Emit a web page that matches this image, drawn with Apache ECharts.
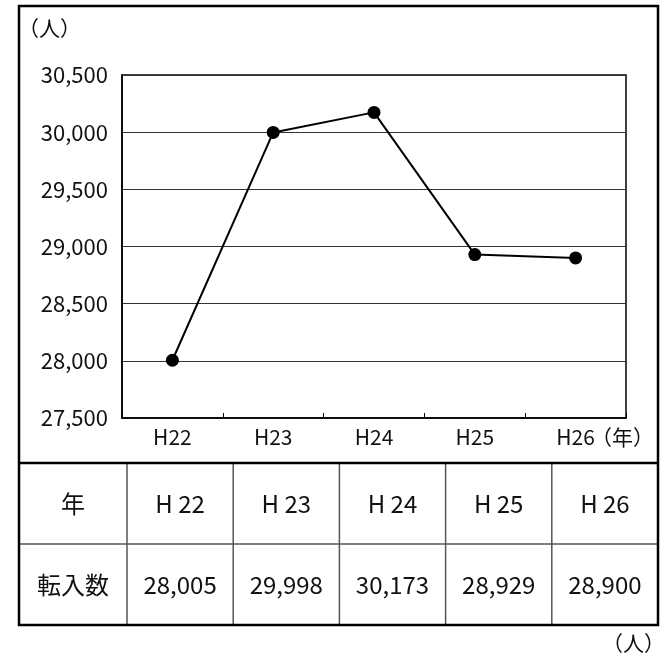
<!DOCTYPE html>
<html><head><meta charset="utf-8">
<script src="https://cdn.jsdelivr.net/npm/echarts@6/dist/echarts.min.js"></script>
<style>html,body{margin:0;padding:0;background:#fff}#c{width:660px;height:660px}</style>
</head><body><div id="c"></div>
<script>
const categories = ['H22','H23','H24','H25','H26'];
const tableYearLabels = ['H 22','H 23','H 24','H 25','H 26'];
const transfersIn = [28005, 29998, 30173, 28929, 28900];
const yTickLabels = ['27,500','28,000','28,500','29,000','29,500','30,000','30,500'];
const rowHeaders = ['年','転入数'];
const unitLabel = '（人）';
const yearUnit = '（年）';

const FONT = '"Noto Sans CJK JP", "Noto Sans", sans-serif';
const chart = echarts.init(document.getElementById('c'), null, {renderer:'canvas'});

// table layout
const box = {x:19, y:6, w:639, h:619};
const tableTop = 463, rowMid = 544, tableBottom = 625;
const firstColRight = 127, colW = 106.2;
const graphics = [];
graphics.push({type:'rect', shape:{x:box.x,y:box.y,width:box.w,height:box.h}, style:{fill:'none',stroke:'#000',lineWidth:2.5}, z:10});
graphics.push({type:'line', shape:{x1:box.x,y1:tableTop,x2:box.x+box.w,y2:tableTop}, style:{stroke:'#000',lineWidth:2.5}, z:10});
graphics.push({type:'line', shape:{x1:box.x,y1:rowMid,x2:box.x+box.w,y2:rowMid}, style:{stroke:'#555',lineWidth:1.5}, z:9});
for (let i=0;i<categories.length;i++){
  const x = firstColRight + i*colW;
  graphics.push({type:'line', shape:{x1:x,y1:tableTop,x2:x,y2:tableBottom}, style:{stroke:'#555',lineWidth:1.5}, z:9});
}
const r1 = (tableTop+rowMid)/2, r2 = (rowMid+tableBottom)/2;
const tstyle = (t,x,y)=>({type:'text', x:x, y:y, style:{text:t, font:'24px '+FONT, fill:'#111', align:'center', verticalAlign:'middle'}, z:11});
graphics.push(tstyle(rowHeaders[0], (box.x+firstColRight)/2, r1));
graphics.push(tstyle(rowHeaders[1], (box.x+firstColRight)/2, r2));
for (let i=0;i<categories.length;i++){
  const cx = firstColRight + i*colW + colW/2;
  graphics.push(tstyle(tableYearLabels[i], cx, r1));
  graphics.push(tstyle(transfersIn[i].toLocaleString('en-US'), cx, r2));
}
graphics.push({type:'text', x:18, y:28, style:{text:unitLabel, font:'21px '+FONT, fill:'#111', align:'left', verticalAlign:'middle'}, z:11});
graphics.push({type:'text', x:602, y:643, style:{text:unitLabel, font:'21px '+FONT, fill:'#111', align:'left', verticalAlign:'middle'}, z:11});
graphics.push({type:'text', x:591, y:437, style:{text:yearUnit, font:'21px '+FONT, fill:'#111', align:'left', verticalAlign:'middle'}, z:11});

chart.setOption({
  backgroundColor:'#fff',
  animation:false,
  textStyle:{fontFamily:FONT},
  grid:{left:122, top:75, right:34, bottom:242, show:true, borderColor:'#000', borderWidth:1.5},
  xAxis:{type:'category', data:categories, boundaryGap:true,
    axisLine:{lineStyle:{color:'#000', width:1.5}},
    axisTick:{show:true, inside:true, length:5, lineStyle:{color:'#000', width:1}},
    axisLabel:{fontSize:21, color:'#111', margin:9, fontFamily:FONT}},
  yAxis:{type:'value', min:27500, max:30500, interval:500,
    axisLine:{show:true, lineStyle:{color:'#000', width:1.5}},
    axisTick:{show:false},
    splitLine:{lineStyle:{color:'#333', width:1}},
    axisLabel:{fontSize:22, color:'#111', margin:14, fontFamily:FONT,
      formatter:(v)=>{const i=Math.round((v-27500)/500); return yTickLabels[i];}}},
  series:[{type:'line', data:transfersIn, symbol:'circle', symbolSize:13,
    itemStyle:{color:'#000'}, lineStyle:{color:'#000', width:2}}],
  graphic:graphics
});
</script></body></html>
